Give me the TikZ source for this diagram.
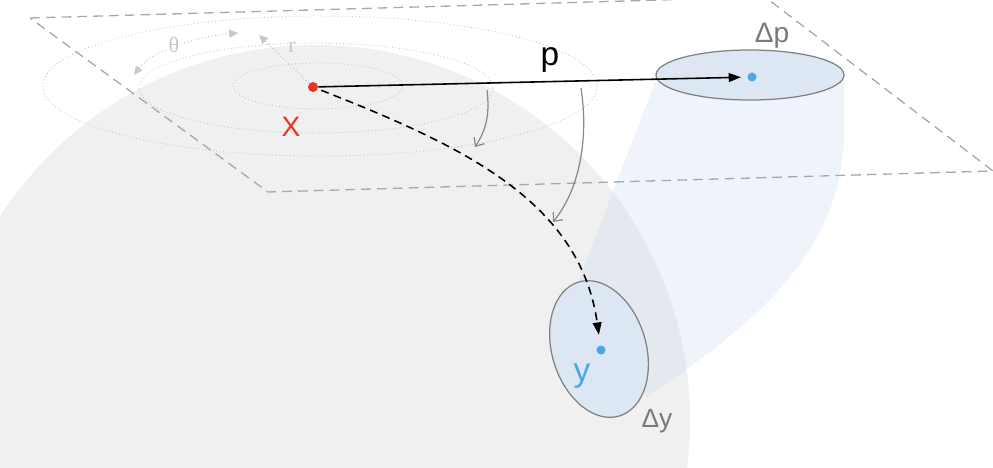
\documentclass[tikz,border=0pt]{standalone}
\usepackage{fontspec}
\setmainfont{Liberation Sans}
\newfontfamily\serifgr{Liberation Serif}
\usetikzlibrary{arrows.meta,shapes.geometric}
\definecolor{spherec}{HTML}{F0F0F0}
\definecolor{planeline}{HTML}{A8A8A8}
\definecolor{ringc}{HTML}{C4C4C4}
\definecolor{faint}{HTML}{C8C8C8}
\definecolor{redx}{HTML}{E8352A}
\definecolor{bluey}{HTML}{4AA8E8}
\definecolor{ellfill}{HTML}{DCE7F3}
\definecolor{ellline}{HTML}{808080}
\definecolor{bandc}{HTML}{C6D9EE}
\definecolor{labgray}{HTML}{7A7A7A}
\definecolor{curvearr}{HTML}{8A8A8A}
\begin{document}
\begin{tikzpicture}[x=0.02cm,y=-0.02cm,
  planestyle/.style={draw=planeline, line width=0.75pt, dash pattern=on 5.5pt off 3.5pt},
  ring/.style={draw=ringc, line width=0.5pt, dash pattern=on 0.5pt off 1.5pt},
  faintarrow/.style={draw=faint, line width=0.6pt, dash pattern=on 0.6pt off 1.4pt},
  dotnode/.style={circle, inner sep=0pt, minimum size=0.18cm},
  regionell/.style={ellipse, draw=ellline, fill=ellfill, line width=0.7pt, inner sep=0pt},
  bentarrow/.style={draw=curvearr, line width=0.7pt, -{Straight Barb[length=4pt,width=7pt]}},
  lab/.style={inner sep=0pt}
]
\useasboundingbox (0,0) rectangle (993,467);
\clip (0,0) rectangle (993,467);

% sphere
\fill[spherec] (315,420) circle [radius=375];

% cone / band between the regions
\fill[bandc, opacity=0.3] (656,80) -- (575,290) -- (647,397)
  .. controls (760,320) and (844,250) .. (844,130) -- (844,78) -- cycle;

% tangent plane
\coordinate (P1) at (30,18);
\coordinate (P2) at (765,-3);
\coordinate (P3) at (993,171);
\coordinate (P4) at (268,192);
\draw[planestyle] (P1) -- (P2) -- (P3) -- (P4) -- cycle;

% concentric rings
\draw[ring] (318,86) ellipse [x radius=85, y radius=23];
\draw[ring] (316,88) ellipse [x radius=177, y radius=45];
\draw[ring] (320,86) ellipse [x radius=277, y radius=70];

% theta and r
\coordinate (th1) at (134,75);
\coordinate (th2) at (238,33);
\draw[faintarrow, {Triangle[length=5pt,width=4.5pt]}-{Triangle[length=5pt,width=4.5pt]}]
  (th1) .. controls (152,50) and (200,36) .. (th2);
\node[lab, fill=white, inner sep=1pt, text=faint, font=\serifgr\fontsize{12.5}{12.5}\selectfont] (theta) at (174,45) {θ};

% regions
\node[regionell, minimum width=3.76cm, minimum height=1cm] (dp) at (750,75) {};
\node[regionell, rotate=17, minimum width=1.88cm, minimum height=2.8cm] (dy) at (599,349) {};

% points
\node[dotnode, fill=redx, minimum size=0.2cm] (x) at (313,87) {};
\node[dotnode, fill=bluey] (pdot) at (752,77) {};
\node[dotnode, fill=bluey] (ydot) at (601,350) {};

\coordinate (rend) at (259,35);
\draw[faintarrow, -{Triangle[length=5pt,width=4.5pt]}] (x) -- (rend);
\node[lab, text=faint, font=\serifgr\fontsize{12.5}{12.5}\selectfont] (r) at (292,47) {r};

% maps
\draw[line width=0.9pt, -{Triangle[length=7pt,width=5pt]}, shorten >=3.5pt] (x) -- (pdot);
\draw[line width=0.9pt, dash pattern=on 4.5pt off 3pt, -{Triangle[length=7pt,width=5pt]}, shorten >=6pt, shorten <=2pt]
  (x) .. controls (460,145) and (580,200) .. (ydot);

% bent arrows
\coordinate (a1s) at (487,90);
\coordinate (a1e) at (475,147);
\draw[bentarrow] (a1s) .. controls (490,115) and (486,130) .. (a1e);
\coordinate (a2s) at (581,88);
\coordinate (a2e) at (553,222);
\draw[bentarrow] (a2s) .. controls (589,140) and (579,190) .. (a2e);

% labels
\node[lab, font=\fontsize{19}{19}\selectfont] (plab) at (550,60) {p};
\node[lab, text=redx, font=\fontsize{16}{16}\selectfont] (xlab) at (291,127) {X};
\node[lab, text=labgray, font=\fontsize{16}{16}\selectfont] (dplab) at (772,36) {Δp};
\node[lab, text=bluey, font=\fontsize{19}{19}\selectfont] (ylab) at (582,376) {y};
\node[lab, text=labgray, font=\fontsize{15}{15}\selectfont] (dylab) at (657,421) {Δy};
\end{tikzpicture}
\end{document}
